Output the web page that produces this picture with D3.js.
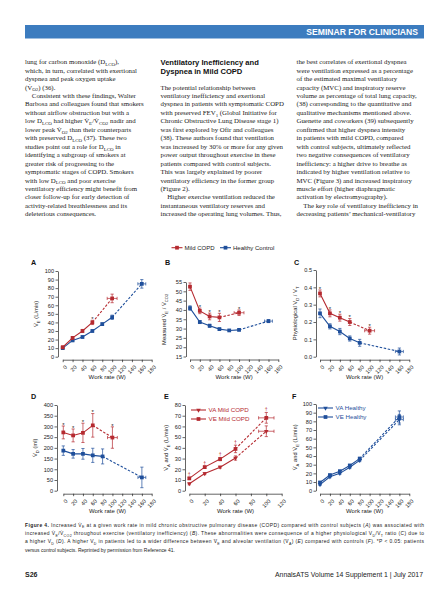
<!DOCTYPE html>
<html>
<head>
<meta charset="utf-8">
<script src="https://cdn.jsdelivr.net/npm/d3@7"></script>
<style>
body { margin: 0; background: #fff; }
svg { display: block; }
</style>
</head>
<body>
<div id="main"></div>
<script>
// work rates (W)
var workCopd = [0, 20, 40, 60, 100];
var workHealthy = [0, 20, 40, 60, 80, 100, 160];
var workHealthyShort = [0, 20, 40, 60, 80, 160];
var workErrCopd = [0, 0, 0, 0, 10];
var workErrHealthy = [0, 0, 0, 0, 0, 0, 8];
var workErrHealthyShort = [0, 0, 0, 0, 0, 8];

// A: VE (L/min)
var veCopd = [11, 22, 30, 40, 68];
var veCopdErr = [1.5, 1.5, 1.8, 2.5, 5];
var veHealthy = [10, 19, 23, 30, 38, 46, 85];
var veHealthyErr = [1.5, 1.2, 1.2, 1.2, 1.5, 2.5, 5];
var sigA = [60];

// B: VE/VCO2
var eqCopd = [52.5, 39.5, 36.5, 36, 38.5];
var eqCopdErr = [2, 1.5, 1.8, 2.2, 1.5];
var eqHealthy = [41, 33.5, 31.5, 29.7, 29, 29.3, 34];
var eqHealthyErr = [1.2, 0.8, 0.8, 0.6, 0.5, 0.5, 0.8];
var sigB = [20, 40, 60, 100];

// C: VD/VT
var vdvtCopd = [0.365, 0.25, 0.225, 0.2, 0.15];
var vdvtCopdErr = [0.02, 0.02, 0.02, 0.02, 0.02];
var vdvtHealthy = [0.25, 0.175, 0.145, 0.105, 0.08, 0.03];
var vdvtHealthyErr = [0.025, 0.015, 0.018, 0.015, 0.02, 0.02];
var sigC = [0, 20, 40, 60, 100];

// D: VD (ml)
var vdCopd = [272, 258, 270, 305, 248];
var vdCopdErr = [30, 30, 45, 55, 50];
var vdHealthy = [187, 172, 172, 165, 160, 62];
var vdHealthyErr = [22, 20, 25, 33, 35, 48];
var sigD = [0, 20, 40, 60, 100];

// E: VA and VE, mild COPD
var vaCopd = [6.5, 16, 22, 30.5, 55.5];
var vaCopdErr = [1, 1, 1, 2, 5];
var veCopdE = [11.5, 22, 29.5, 39, 68];
var veCopdEErr = [1, 1, 1.5, 3.5, 5];
var sigE = [0, 20, 40, 60, 100];

// F: VA and VE, healthy
var vaHealthy = [7, 16, 20, 27, 35, 82];
var vaHealthyErr = [1, 1, 1, 1.5, 1.5, 6];
var veHealthyF = [9.5, 18, 22.5, 29, 37, 85];
var veHealthyFErr = [1, 1, 1, 1.5, 1.5, 7];

var RED = "#b52a30";
var BLUE = "#1f4f9b";
var SANS = "'Liberation Sans', Arial, sans-serif";
var SERIF = "'Liberation Serif', 'Times New Roman', serif";

var col1 = [
  "lung for carbon monoxide (D_{LCO}),",
  "which, in turn, correlated with exertional",
  "dyspnea and peak oxygen uptake",
  "(V\u0307_{O2}) (36).",
  "\u2003Consistent with these findings, Walter",
  "Barbosa and colleagues found that smokers",
  "without airflow obstruction but with a",
  "low D_{LCO} had higher V\u0307_{E}/V\u0307_{CO2} nadir and",
  "lower peak V\u0307_{O2} than their counterparts",
  "with preserved D_{LCO} (37). These two",
  "studies point out a role for D_{LCO} in",
  "identifying a subgroup of smokers at",
  "greater risk of progressing to the",
  "symptomatic stages of COPD. Smokers",
  "with low D_{LCO} and poor exercise",
  "ventilatory efficiency might benefit from",
  "closer follow-up for early detection of",
  "activity-related breathlessness and its",
  "deleterious consequences."
];
var col2Head = ["Ventilatory Inefficiency and", "Dyspnea in Mild COPD"];
var col2 = [
  "The potential relationship between",
  "ventilatory inefficiency and exertional",
  "dyspnea in patients with symptomatic COPD",
  "with preserved FEV_{1} (Global Initiative for",
  "Chronic Obstructive Lung Disease stage 1)",
  "was first explored by Ofir and colleagues",
  "(38). These authors found that ventilation",
  "was increased by 30% or more for any given",
  "power output throughout exercise in these",
  "patients compared with control subjects.",
  "This was largely explained by poorer",
  "ventilatory efficiency in the former group",
  "(Figure 2).",
  "\u2003Higher exercise ventilation reduced the",
  "instantaneous ventilatory reserves and",
  "increased the operating lung volumes. Thus,"
];
var col3 = [
  "the best correlates of exertional dyspnea",
  "were ventilation expressed as a percentage",
  "of the estimated maximal ventilatory",
  "capacity (MVC) and inspiratory reserve",
  "volume as percentage of total lung capacity,",
  "(38) corresponding to the quantitative and",
  "qualitative mechanisms mentioned above.",
  "Guenette and coworkers (39) subsequently",
  "confirmed that higher dyspnea intensity",
  "in patients with mild COPD, compared",
  "with control subjects, ultimately reflected",
  "two negative consequences of ventilatory",
  "inefficiency: a higher drive to breathe as",
  "indicated by higher ventilation relative to",
  "MVC (Figure 3) and increased inspiratory",
  "muscle effort (higher diaphragmatic",
  "activation by electromyography).",
  "\u2003The key role of ventilatory inefficiency in",
  "decreasing patients\u2019 mechanical-ventilatory"
];
var caption = [
  "*{Figure 4.}  Increased V\u0307_{E} at a given work rate in mild chronic obstructive pulmonary disease (COPD) compared with control subjects (/{A}) was associated with",
  "increased V\u0307_{E}/V\u0307_{CO2} throughout exercise (ventilatory inefficiency) (/{B}). These abnormalities were consequence of a higher physiological V_{D}/V_{T} ratio (/{C}) due to",
  "a higher V_{D} (/{D}). A higher V_{D} in patients led to a wider difference between V\u0307_{E} and alveolar ventilation (V\u0307_{A}) (/{E}) compared with controls (/{F}). *P < 0.05: patients",
  "versus control subjects. Reprinted by permission from Reference 41."
];

var svg = d3.select("#main").append("svg")
  .attr("width", 448).attr("height", 599);

// small markup: _{sub}  /{italic}  *{bold}
function rich(sel, str, fs) {
  var parts = str.split(/(_\{[^}]*\}|\/\{[^}]*\}|\*\{[^}]*\})/).filter(function (p) { return p !== ""; });
  var shifted = false;
  parts.forEach(function (p) {
    var ts = sel.append("tspan");
    if (p.indexOf("_{") === 0) {
      ts.text(p.slice(2, -1)).attr("font-size", fs * 0.72).attr("dy", fs * 0.28);
      shifted = true;
      return;
    }
    if (shifted) { ts.attr("dy", -fs * 0.28); shifted = false; }
    if (p.indexOf("/{") === 0) ts.text(p.slice(2, -1)).attr("font-style", "italic");
    else if (p.indexOf("*{") === 0) ts.text(p.slice(2, -1)).attr("font-weight", "bold");
    else ts.text(p);
  });
}

// header
svg.append("rect").attr("x", 25).attr("y", 25).attr("width", 399).attr("height", 13.5)
  .attr("fill", "#3c7cbf");
svg.append("text").attr("x", 418).attr("y", 35.2).attr("text-anchor", "end")
  .attr("font-family", SANS).attr("font-weight", "bold").attr("font-size", 8.6)
  .attr("fill", "#fff").text("SEMINAR FOR CLINICIANS");

// body columns
var lineH = 8.45, base0 = 64.2, bodyFs = 6.85;
function column(lines, x, startLine) {
  lines.forEach(function (l, i) {
    var t = svg.append("text").attr("x", x).attr("y", base0 + (startLine + i) * lineH)
      .attr("font-family", SERIF).attr("font-size", bodyFs).attr("fill", "#222");
    rich(t, l, bodyFs);
  });
}
column(col1, 25, 0);
column(col2, 160.5, 3);
column(col3, 296.5, 0);
col2Head.forEach(function (l, i) {
  svg.append("text").attr("x", 160.5).attr("y", 64.6 + i * 9)
    .attr("font-family", SANS).attr("font-weight", "bold").attr("font-size", 7.6)
    .attr("fill", "#111").text(l);
});

// figure
function styleAxis(g) {
  g.attr("font-family", SANS).attr("font-size", 5.6);
  g.selectAll(".domain").attr("stroke", "#222").attr("stroke-width", 0.7);
  g.selectAll(".tick line").attr("stroke", "#222").attr("stroke-width", 0.7);
  g.selectAll(".tick text").attr("fill", "#222");
}

function drawSeries(g, x, y, s) {
  var pts = s.work.map(function (w, i) {
    return { w: w, v: s.vals[i], e: s.err[i], we: s.werr[i] };
  });
  var line = d3.line().x(function (d) { return x(d.w); }).y(function (d) { return y(d.v); });
  g.append("path").datum(pts.slice(0, -1)).attr("d", line)
    .attr("fill", "none").attr("stroke", s.color).attr("stroke-width", 1.1);
  g.append("path").datum(pts.slice(-2)).attr("d", line)
    .attr("fill", "none").attr("stroke", s.color).attr("stroke-width", 1.1)
    .attr("stroke-dasharray", "2.5,1.6");
  var eb = g.append("g").attr("stroke", s.color).attr("stroke-width", 0.7);
  pts.forEach(function (d) {
    var cx = x(d.w), cy = y(d.v);
    eb.append("line").attr("x1", cx).attr("x2", cx).attr("y1", y(d.v - d.e)).attr("y2", y(d.v + d.e));
    eb.append("line").attr("x1", cx - 1.6).attr("x2", cx + 1.6).attr("y1", y(d.v - d.e)).attr("y2", y(d.v - d.e));
    eb.append("line").attr("x1", cx - 1.6).attr("x2", cx + 1.6).attr("y1", y(d.v + d.e)).attr("y2", y(d.v + d.e));
    if (d.we > 0) {
      eb.append("line").attr("x1", x(d.w - d.we)).attr("x2", x(d.w + d.we)).attr("y1", cy).attr("y2", cy);
      eb.append("line").attr("x1", x(d.w - d.we)).attr("x2", x(d.w - d.we)).attr("y1", cy - 1.6).attr("y2", cy + 1.6);
      eb.append("line").attr("x1", x(d.w + d.we)).attr("x2", x(d.w + d.we)).attr("y1", cy - 1.6).attr("y2", cy + 1.6);
    }
  });
  var sym = s.shape === "tri" ? d3.symbol(d3.symbolTriangle, 9) : d3.symbol(d3.symbolSquare, 14);
  g.selectAll(null).data(pts).enter().append("path")
    .attr("d", sym)
    .attr("transform", function (d) {
      return "translate(" + x(d.w) + "," + y(d.v) + ")" + (s.shape === "tri" ? " rotate(180)" : "");
    })
    .attr("fill", s.color);
  if (s.sig) {
    pts.filter(function (d) { return s.sig.indexOf(d.w) >= 0; }).forEach(function (d) {
      g.append("text").attr("x", x(d.w)).attr("y", y(d.v + d.e) + (s.mark === "*" ? 0.8 : -1.2))
        .attr("text-anchor", "middle").attr("font-family", SANS)
        .attr("font-size", s.mark === "*" ? 6 : 5.2).attr("fill", s.mark === "*" ? "#222" : s.color)
        .text(s.mark);
    });
  }
}

function drawPanel(p) {
  var g = svg.append("g");
  var x = d3.scaleLinear().domain([0, p.xMax]).range([p.x0, p.x1]);
  var y = d3.scaleLinear().domain(p.yDomain).range([p.yBot, p.yTop]);
  g.append("g").attr("transform", "translate(" + p.yAxisX + ",0)")
    .call(d3.axisLeft(y).tickValues(p.yTicks).tickFormat(p.fmt).tickSize(2.5).tickSizeOuter(0).tickPadding(1.5))
    .call(styleAxis);
  var gx = g.append("g").attr("transform", "translate(0," + (p.yBot + 3) + ")")
    .call(d3.axisBottom(x).tickValues(d3.range(0, p.xMax + 1, 20)).tickSize(2.5).tickSizeOuter(0))
    .call(styleAxis);
  gx.selectAll(".tick text").attr("x", 0).attr("y", 0).attr("dy", "0.35em")
    .attr("text-anchor", "end").attr("transform", "translate(2.8,6.5) rotate(-45)");
  g.append("text").attr("x", (p.x0 + p.x1) / 2).attr("y", p.yBot + 22.5)
    .attr("text-anchor", "middle").attr("font-family", SANS).attr("font-size", 6)
    .attr("fill", "#222").text("Work rate (W)");
  var tt = g.append("text")
    .attr("transform", "translate(" + p.titleX + "," + (p.yTop + p.yBot) / 2 + ") rotate(-90)")
    .attr("text-anchor", "middle").attr("font-family", SANS).attr("font-size", 5.8).attr("fill", "#222");
  rich(tt, p.title, 5.8);
  svg.append("text").attr("x", p.letter[1]).attr("y", p.letter[2])
    .attr("font-family", SANS).attr("font-weight", "bold").attr("font-size", 7.2)
    .attr("fill", "#111").text(p.letter[0]);
  p.series.forEach(function (s) { drawSeries(g, x, y, s); });
  if (p.legend) {
    p.legend.forEach(function (l, i) {
      var ly = p.legend.y0 + i * 9;
      g.append("line").attr("x1", p.legend.x).attr("x2", p.legend.x + 15).attr("y1", ly).attr("y2", ly)
        .attr("stroke", l.color).attr("stroke-width", 1.1);
      var sym = l.shape === "tri" ? d3.symbol(d3.symbolTriangle, 9) : d3.symbol(d3.symbolSquare, 14);
      g.append("path").attr("d", sym).attr("fill", l.color)
        .attr("transform", "translate(" + (p.legend.x + 7.5) + "," + ly + ")" + (l.shape === "tri" ? " rotate(180)" : ""));
      g.append("text").attr("x", p.legend.x + 17.5).attr("y", ly + 2.1)
        .attr("font-family", SANS).attr("font-size", 6.2).attr("fill", l.color).text(l.label);
    });
  }
}

var fmtInt = d3.format("d");

drawPanel({
  x0: 62.7, x1: 151.7, xMax: 180, yTop: 271, yBot: 356.7, yAxisX: 58,
  yDomain: [0, 100], yTicks: d3.range(0, 101, 10), fmt: fmtInt,
  titleX: 38, title: "V\u0307_{E} (L/min)", letter: ["A", 31, 265],
  series: [
    { work: workHealthy, vals: veHealthy, err: veHealthyErr, werr: workErrHealthy, color: BLUE },
    { work: workCopd, vals: veCopd, err: veCopdErr, werr: workErrCopd, color: RED, sig: sigA, mark: "*" }
  ]
});
drawPanel({
  x0: 190, x1: 278.3, xMax: 180, yTop: 282, yBot: 356.5, yAxisX: 186,
  yDomain: [15, 55], yTicks: d3.range(15, 56, 5), fmt: fmtInt,
  titleX: 166, title: "Measured V\u0307_{E} / V\u0307_{CO2}", letter: ["B", 165, 265],
  series: [
    { work: workHealthy, vals: eqHealthy, err: eqHealthyErr, werr: workErrHealthy, color: BLUE },
    { work: workCopd, vals: eqCopd, err: eqCopdErr, werr: workErrCopd, color: RED, sig: sigB, mark: "*" }
  ]
});
drawPanel({
  x0: 320, x1: 409.3, xMax: 180, yTop: 270, yBot: 356.7, yAxisX: 316,
  yDomain: [0, 0.5], yTicks: [0, 0.1, 0.2, 0.3, 0.4, 0.5], fmt: d3.format(".1f"),
  titleX: 297, title: "Physiological V_{D} / V_{T}", letter: ["C", 294, 265],
  series: [
    { work: workHealthyShort, vals: vdvtHealthy, err: vdvtHealthyErr, werr: workErrHealthyShort, color: BLUE },
    { work: workCopd, vals: vdvtCopd, err: vdvtCopdErr, werr: workErrCopd, color: RED, sig: sigC, mark: "*" }
  ]
});
drawPanel({
  x0: 63.3, x1: 151.7, xMax: 180, yTop: 405, yBot: 490.7, yAxisX: 57,
  yDomain: [0, 400], yTicks: d3.range(0, 401, 50), fmt: fmtInt,
  titleX: 37, title: "V\u0307_{D} (ml)", letter: ["D", 31, 399],
  series: [
    { work: workHealthyShort, vals: vdHealthy, err: vdHealthyErr, werr: workErrHealthyShort, color: BLUE },
    { work: workCopd, vals: vdCopd, err: vdCopdErr, werr: workErrCopd, color: RED, sig: sigD, mark: "*" }
  ]
});
var legE = [{ label: "VA Mild COPD", color: RED, shape: "tri" }, { label: "VE Mild COPD", color: RED }];
legE.x = 191; legE.y0 = 410;
drawPanel({
  x0: 189.3, x1: 281.7, xMax: 120, yTop: 405, yBot: 490.7, yAxisX: 185,
  yDomain: [0, 80], yTicks: d3.range(0, 81, 10), fmt: fmtInt,
  titleX: 168, title: "V\u0307_{A} and V\u0307_{E} (L/min)", letter: ["E", 164, 399],
  series: [
    { work: workCopd, vals: vaCopd, err: vaCopdErr, werr: workErrCopd, color: RED, shape: "tri" },
    { work: workCopd, vals: veCopdE, err: veCopdEErr, werr: workErrCopd, color: RED, sig: sigE, mark: "\u2020" }
  ],
  legend: legE
});
var legF = [{ label: "VA Healthy", color: BLUE, shape: "tri" }, { label: "VE Healthy", color: BLUE }];
legF.x = 318; legF.y0 = 408;
drawPanel({
  x0: 320, x1: 409.3, xMax: 180, yTop: 404, yBot: 490.7, yAxisX: 316,
  yDomain: [0, 100], yTicks: d3.range(0, 101, 10), fmt: fmtInt,
  titleX: 297, title: "V\u0307_{A} and V\u0307_{E} (L/min)", letter: ["F", 292, 399],
  series: [
    { work: workHealthyShort, vals: vaHealthy, err: vaHealthyErr, werr: workErrHealthyShort, color: BLUE, shape: "tri" },
    { work: workHealthyShort, vals: veHealthyF, err: veHealthyFErr, werr: workErrHealthyShort, color: BLUE }
  ],
  legend: legF
});

// shared legend (A-D)
var legTop = [{ label: "Mild COPD", color: RED, x: 171.5 }, { label: "Healthy Control", color: BLUE, x: 220 }];
legTop.forEach(function (l) {
  svg.append("line").attr("x1", l.x).attr("x2", l.x + 11).attr("y1", 247.7).attr("y2", 247.7)
    .attr("stroke", l.color).attr("stroke-width", 1.1);
  svg.append("path").attr("d", d3.symbol(d3.symbolSquare, 14)).attr("fill", l.color)
    .attr("transform", "translate(" + (l.x + 5.5) + ",247.7)");
  svg.append("text").attr("x", l.x + 13).attr("y", 249.8).attr("font-family", SANS)
    .attr("font-size", 6).attr("fill", "#222").text(l.label);
});

// caption
caption.forEach(function (l, i) {
  var t = svg.append("text").attr("x", 25).attr("y", 527 + i * 8.2)
    .attr("font-family", SANS).attr("font-size", 4.95).attr("fill", "#222");
  if (i < 3) t.attr("textLength", 399).attr("lengthAdjust", "spacing");
  rich(t, l, 4.95);
});

// footer
svg.append("text").attr("x", 25).attr("y", 576.5).attr("font-family", SANS)
  .attr("font-weight", "bold").attr("font-size", 7).attr("fill", "#222").text("S26");
svg.append("text").attr("x", 423).attr("y", 576.5).attr("text-anchor", "end")
  .attr("font-family", SANS).attr("font-size", 6.9).attr("fill", "#222")
  .text("AnnalsATS Volume 14 Supplement 1 | July 2017");
</script>
</body>
</html>
